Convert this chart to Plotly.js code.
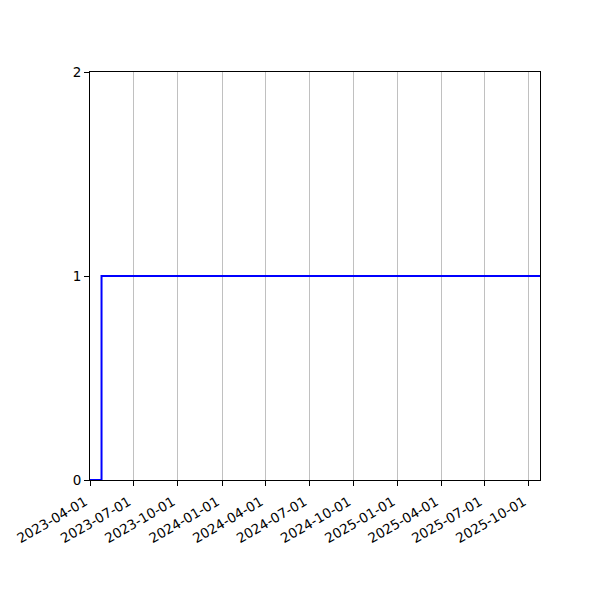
<!DOCTYPE html>
<html>
<head>
<meta charset="utf-8">
<script src="https://cdn.plot.ly/plotly-3.0.1.min.js"></script>
<style>
  html, body { margin: 0; padding: 0; background: #fff; }
  #chart { width: 600px; height: 600px; }
</style>
</head>
<body>
<div id="chart"></div>
<script>
// step series: value switches at each date and holds until the next
const stepDates  = ['2023-04-01', '2023-04-25', '2025-10-24'];
const stepValues = [0, 1, 1];

const xTicks = ['2023-04-01','2023-07-01','2023-10-01','2024-01-01','2024-04-01','2024-07-01',
                '2024-10-01','2025-01-01','2025-04-01','2025-07-01','2025-10-01'];
const yTicks = [0, 1, 2];

const axisBase = {
  showline: true, mirror: true, linecolor: '#000', linewidth: 1,
  ticks: 'outside', ticklen: 5, tickwidth: 1, tickcolor: '#000',
  zeroline: false,
  tickfont: { family: 'DejaVu Sans', size: 13.5, color: '#000' },
};

Plotly.newPlot('chart', [{
  x: stepDates, y: stepValues,
  mode: 'lines',
  line: { color: '#0000ff', width: 2, shape: 'hv' },
  hoverinfo: 'skip', showlegend: false,
}], {
  width: 600, height: 600,
  paper_bgcolor: '#fff', plot_bgcolor: '#fff',
  margin: { l: 90, r: 60, t: 72, b: 120 },
  xaxis: Object.assign({}, axisBase, {
    type: 'date',
    range: [stepDates[0], stepDates[stepDates.length - 1]],
    tickmode: 'array', tickvals: xTicks, ticktext: xTicks,
    tickangle: -30, ticklabelshift: -5, ticklabelstandoff: 3,
    showgrid: true, gridcolor: '#b0b0b0', gridwidth: 0.8,
  }),
  yaxis: Object.assign({}, axisBase, {
    range: [0, 2],
    tickmode: 'array', tickvals: yTicks,
    showgrid: false,
  }),
}, { displayModeBar: false, staticPlot: true });
</script>
</body>
</html>
